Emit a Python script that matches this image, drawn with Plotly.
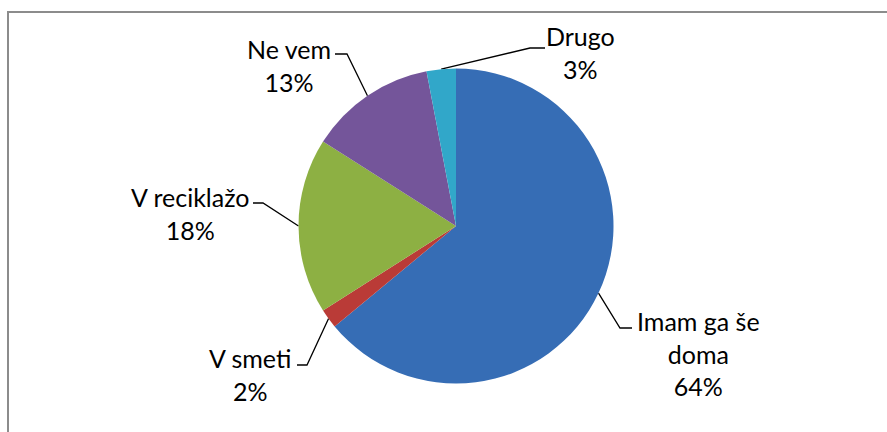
import math
import plotly.graph_objects as go

# Survey answers and shares (percent)
labels = ["Imam ga še doma", "V smeti", "V reciklažo", "Ne vem", "Drugo"]
values = [64, 2, 18, 13, 3]
label_text = ["Imam ga še<br>doma", "V smeti", "V reciklažo", "Ne vem", "Drugo"]
colors = ["#366DB5", "#BA3B37", "#8DB043", "#74559A", "#31A7C9"]

W, H = 887, 432
CX, CY, R = 456, 226, 157.5

# label block centre, leader elbow and leader end (pixel layout)
label_pos = [(698, 353), (250, 374), (190, 213), (289, 65), (580, 52)]
elbows = [(620, 328), (307, 365), (263, 203), (347, 54), (530, 48)]
ends = [(632, 328), (297, 365), (253, 203), (335, 54), (545, 48)]

fig = go.Figure()

fig.add_trace(go.Pie(
    labels=labels,
    values=values,
    sort=False,
    direction="clockwise",
    rotation=0,
    marker=dict(colors=colors, line=dict(width=0)),
    textinfo="none",
    hoverinfo="label+percent",
    showlegend=False,
    domain=dict(x=[(CX - R) / W, (CX + R) / W],
                y=[(H - CY - R) / H, (H - CY + R) / H]),
))

total = sum(values)
cum = 0.0
annotations = []
for i, v in enumerate(values):
    theta = 2 * math.pi * (cum + v / 2) / total
    cum += v
    sx = CX + R * math.sin(theta)
    sy = CY - R * math.cos(theta)
    ex, ey = elbows[i]
    tx, ty = ends[i]
    fig.add_trace(go.Scatter(
        x=[sx, ex, tx], y=[sy, ey, ty], mode="lines",
        line=dict(color="#000000", width=1.3),
        hoverinfo="skip", showlegend=False,
    ))
    pct = round(v / total * 100)
    lx, ly = label_pos[i]
    annotations.append(dict(
        x=lx, y=ly, xref="x", yref="y",
        text=f"{label_text[i]}<br>{pct}%",
        showarrow=False, xanchor="center", yanchor="middle", align="center",
        font=dict(family="Lato", size=25, color="#000000"),
    ))

# outer chart frame (top and left edges)
fig.add_trace(go.Scatter(
    x=[W + 5, 8, 8], y=[12, 12, H + 5], mode="lines",
    line=dict(color="#8C8C8C", width=2),
    hoverinfo="skip", showlegend=False,
))

fig.update_layout(
    width=W, height=H,
    margin=dict(l=0, r=0, t=0, b=0),
    paper_bgcolor="#FFFFFF",
    plot_bgcolor="#FFFFFF",
    xaxis=dict(range=[0, W], visible=False, fixedrange=True),
    yaxis=dict(range=[H, 0], visible=False, fixedrange=True),
    annotations=annotations,
)

fig.write_html("out.html")
